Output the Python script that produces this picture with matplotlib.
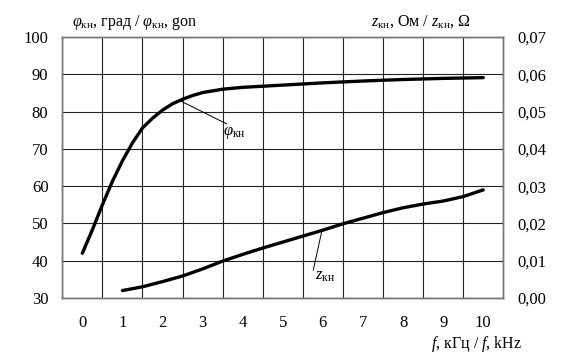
import matplotlib
matplotlib.use("Agg")
import matplotlib.pyplot as plt
from matplotlib.ticker import FixedLocator, FuncFormatter

plt.rcParams['font.family'] = ['Liberation Serif', 'DejaVu Serif']
plt.rcParams['mathtext.fontset'] = 'custom'
plt.rcParams['mathtext.rm'] = 'Liberation Serif'
plt.rcParams['mathtext.it'] = 'Liberation Serif:italic'
plt.rcParams['mathtext.bf'] = 'Liberation Serif:bold'

# ---- data ----
phi_f = [0, 0.25, 0.5, 0.75, 1, 1.25, 1.5, 1.75, 2, 2.25, 2.5, 2.75, 3, 3.5, 4, 5, 6, 7, 8, 9, 10]
phi_val = [42, 48.3, 55, 61.3, 66.8, 71.6, 75.6, 78.2, 80.4, 82.1, 83.3, 84.3, 85.1, 86.0, 86.5, 87.1, 87.7, 88.2, 88.6, 88.9, 89.1]

z_f = [1, 1.5, 2, 2.5, 3, 3.5, 4, 4.5, 5, 5.5, 6, 6.5, 7, 7.5, 8, 8.5, 9, 9.5, 10]
z_val = [0.0020, 0.0030, 0.0044, 0.0059, 0.0078, 0.0099, 0.0117, 0.0134, 0.0150, 0.0166,
         0.0182, 0.0199, 0.0214, 0.0229, 0.0242, 0.0252, 0.0260, 0.0272, 0.0290]

x_ticks = list(range(0, 11))
left_ticks = [30, 40, 50, 60, 70, 80, 90, 100]
right_ticks = [0.00, 0.01, 0.02, 0.03, 0.04, 0.05, 0.06, 0.07]

W, H = 585, 355
fig = plt.figure(figsize=(W / 100, H / 100), dpi=100)
ax = fig.add_axes([62.3 / W, 1 - 298 / H, (503.3 - 62.3) / W, (298 - 37) / H])
ax2 = ax.twinx()

ax.set_xlim(-0.5, 10.5)
ax.set_ylim(30, 100)
ax2.set_ylim(0, 0.07)

ax.xaxis.set_major_locator(FixedLocator(x_ticks))
ax.xaxis.set_minor_locator(FixedLocator([t - 0.5 for t in x_ticks] + [10.5]))
ax.yaxis.set_major_locator(FixedLocator(left_ticks))
ax2.yaxis.set_major_locator(FixedLocator(right_ticks))
ax2.yaxis.set_major_formatter(FuncFormatter(lambda v, p: f"{v:.2f}".replace('.', ',')))

fs = 12
tfs = 11.5
ax.tick_params(axis='x', which='both', length=0, pad=12.5, labelsize=fs)
ax.tick_params(axis='y', length=0, pad=10, labelsize=fs)
ax2.tick_params(axis='y', length=0, pad=10, labelsize=fs)

ax.grid(True, axis='x', which='minor', color='#222222', lw=0.8)
ax.grid(True, axis='y', which='major', color='#222222', lw=0.8)
for a in (ax, ax2):
    for s in a.spines.values():
        s.set_color('#777777')
        s.set_linewidth(1.0)

ax.plot(phi_f, phi_val, color='black', lw=2.4, solid_capstyle='round', zorder=3)
ax2.plot(z_f, z_val, color='black', lw=2.4, solid_capstyle='round', zorder=3)

# leaders and curve labels
ax.plot([2.44, 3.6], [82.9, 76.7], color='black', lw=0.7)
ax.text(3.5, 74.3, r'$\varphi_{\mathrm{кн}}$', fontsize=tfs + 0.5, ha='left', va='center')
ax.plot([5.97, 5.76], [47.8, 37.5], color='black', lw=0.7)
ax.text(5.8, 35.9, r'$z_{\mathrm{кн}}$', fontsize=tfs + 0.5, ha='left', va='center')

fig.text(72 / W, 1 - 22 / H, r'$\varphi_{\mathrm{кн}}$, град / $\varphi_{\mathrm{кн}}$, gon',
         fontsize=tfs, ha='left', va='center')
fig.text(471 / W, 1 - 22 / H, r'$z_{\mathrm{кн}}$, Ом / $z_{\mathrm{кн}}$, Ω',
         fontsize=tfs, ha='right', va='center')
fig.text(522 / W, 1 - 344 / H, r'$f$, кГц / $f$, kHz', fontsize=tfs, ha='right', va='center')

fig.savefig('out.png', dpi=100, facecolor='white')
